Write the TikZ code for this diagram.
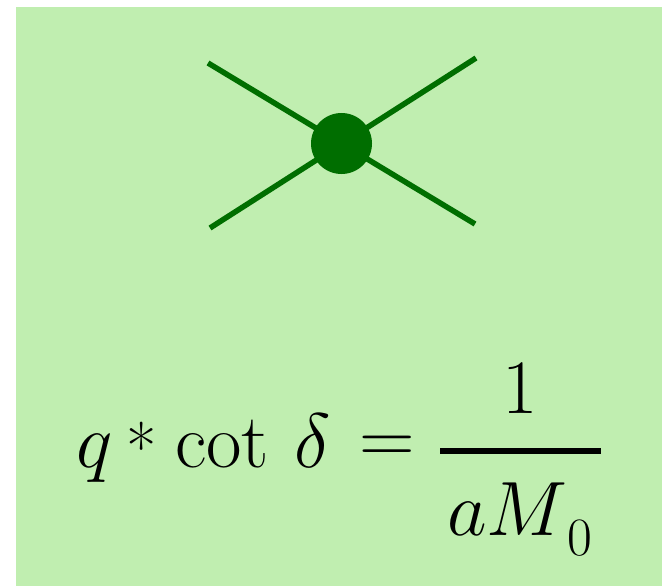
\documentclass[tikz,border=0pt]{standalone}
\usepackage{fix-cm}
\definecolor{bggreen}{RGB}{192,238,176}
\definecolor{dkgreen}{RGB}{0,110,0}
\tikzset{
  leg/.style={draw=dkgreen, line width=5.5pt},
  vertex/.style={circle, fill=dkgreen, minimum size=61pt, inner sep=0pt},
  eqfont/.style={inner sep=0pt, font=\fontsize{77}{90}\selectfont},
  eqtext/.style={eqfont, anchor=base west},
}
\begin{document}
\begin{tikzpicture}[x=1pt,y=-1pt]
\useasboundingbox (0,0) rectangle (662,586);
\fill[white] (0,0) rectangle (662,586);
\fill[bggreen] (16,7) rectangle (662,586);
% vertex
\coordinate (l1) at (208,63);
\coordinate (r1) at (475,224);
\coordinate (l2) at (210,228);
\coordinate (r2) at (476,58);
\draw[leg] (l1) -- (r1);
\draw[leg] (l2) -- (r2);
\node[vertex] (v) at (341.5,143.5) {};
% equation
\node[eqtext] (q) at (76,467) {$q$};
\node[anchor=base, inner sep=0pt, font=\fontsize{66}{70}\selectfont] (ast) at (141.5,471) {*};
\node[eqtext] (cot) at (175,467) {cot};
\node[eqtext] (delta) at (294,467) {$\delta$};
\node[eqfont, anchor=center] (eq) at (387.5,450) {$=$};
\coordinate (barl) at (440,451);
\coordinate (barr) at (601,451);
\draw[line width=5.5pt] (barl) -- (barr);
\node[eqfont, anchor=base] (num) at (520.5,413) {1};
\node[eqtext] (den) at (447,535) {$aM$\raisebox{-20pt}{\fontsize{54}{60}\selectfont 0}};
\end{tikzpicture}
\end{document}
